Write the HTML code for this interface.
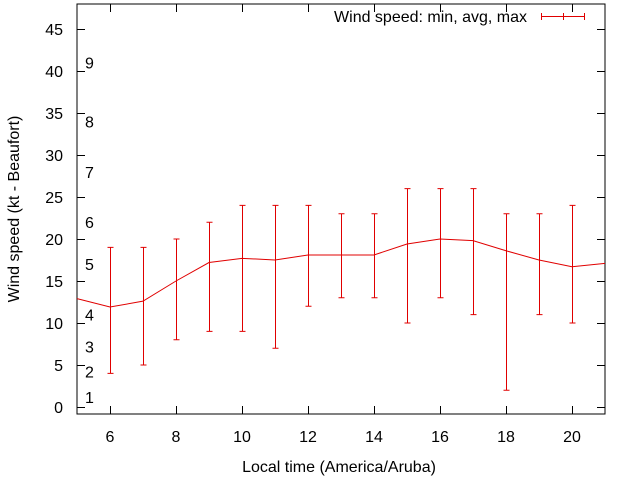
<!DOCTYPE html>
<html><head><meta charset="utf-8"><style>
body{margin:0;background:#fff}
text{font-family:"Liberation Sans",sans-serif;font-size:16px;fill:#000}
</style></head><body>
<svg id="chart" width="640" height="480" xmlns="http://www.w3.org/2000/svg">
<g id="g"></g>
</svg>
<script>
const hours=[5,6,7,8,9,10,11,12,13,14,15,16,17,18,19,20,21];
const avgSpeed=[12.9,11.9,12.6,15,17.2,17.7,17.5,18.1,18.1,18.1,19.4,20,19.8,18.6,17.5,16.7,17.1];
const minSpeed=[null,4,5,8,9,9,7,12,13,13,10,13,11,2,11,10,null];
const maxSpeed=[null,19,19,20,22,24,24,24,23,23,26,26,26,23,23,24,null];
const yTicks=[0,5,10,15,20,25,30,35,40,45];
const xTicks=[6,8,10,12,14,16,18,20];
const beaufortLabels=["1","2","3","4","5","6","7","8","9"];
const beaufortPos=[1.2,4.2,7.2,11,17,22,28,34,41];
const L=77,R=605,T=4,B=414;
const x=h=>L+(h-5)*(R-L)/16;
const y=v=>407-v*8.4;
const g=document.getElementById('g');
const NS='http://www.w3.org/2000/svg';
function mk(t,a,txt){const e=document.createElementNS(NS,t);for(const k in a)e.setAttribute(k,a[k]);if(txt!=null)e.textContent=txt;g.appendChild(e);return e;}
let e;
e=mk('rect',{x:L,y:T,width:R-L,height:B-T,fill:'none',stroke:'#000','stroke-width':1});


yTicks.forEach(v=>{
 e=mk('line',{x1:L,x2:L+8,y1:y(v)+.5,y2:y(v)+.5,stroke:'#000'});
 
 
 e=mk('line',{x1:R-8,x2:R,y1:y(v)+.5,y2:y(v)+.5,stroke:'#000'});
 
 
 e=mk('text',{x:63,y:y(v)+6,'text-anchor':'end'},v);
 
 
});
xTicks.forEach(h=>{
 e=mk('line',{x1:x(h)+.5,x2:x(h)+.5,y1:B,y2:B-8,stroke:'#000'});
 
 
 e=mk('line',{x1:x(h)+.5,x2:x(h)+.5,y1:T,y2:T+8,stroke:'#000'});
 
 
 e=mk('text',{x:x(h),y:442,'text-anchor':'middle'},h);
 
 
});
beaufortLabels.forEach((b,i)=>{
 e=mk('text',{x:85,y:y(beaufortPos[i])+6},b);
 
 
});
e=mk('text',{x:19,y:209,'text-anchor':'middle',transform:'rotate(-90 19 209)'},'Wind speed (kt - Beaufort)');


e=mk('text',{x:339,y:472,'text-anchor':'middle'},'Local time (America/Aruba)');


e=mk('polyline',{points:hours.map((h,i)=>x(h)+','+y(avgSpeed[i])).join(' '),fill:'none',stroke:'#e00000'});


hours.forEach((h,i)=>{
 if(minSpeed[i]==null)return;
 const cx=x(h)+.5;
 e=mk('path',{d:`M${cx},${y(minSpeed[i])}V${y(maxSpeed[i])}M${cx-3},${y(minSpeed[i])}h6M${cx-3},${y(maxSpeed[i])}h6`,stroke:'#e00000',fill:'none'});
 
 
});
e=mk('text',{x:527,y:22,'text-anchor':'end'},'Wind speed: min, avg, max');


e=mk('path',{d:'M541,16.5H585M541.5,13v7M584.5,13v7M563.5,13v7',stroke:'#e00000',fill:'none'});


</script>
</body></html>
